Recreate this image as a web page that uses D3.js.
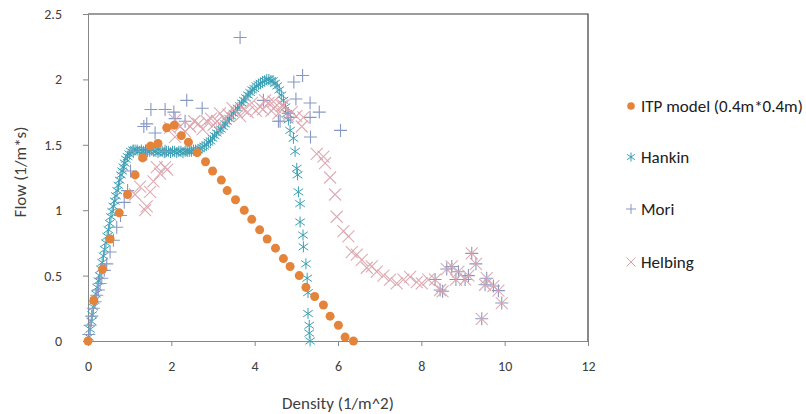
<!DOCTYPE html>
<html>
<head>
<meta charset="utf-8">
<script src="https://cdn.jsdelivr.net/npm/d3@7"></script>
<style>
  html, body { margin: 0; padding: 0; background: #fff; }
  svg { display: block; font-family: Carlito, Lato, "Open Sans", sans-serif; }
</style>
</head>
<body>
<svg id="chart" width="806" height="414"></svg>
<script>
// ---- data ----
const xTicks = [0, 2, 4, 6, 8, 10, 12];
const yTicks = [0, 0.5, 1, 1.5, 2, 2.5];
const seriesNames = ["ITP model (0.4m*0.4m)", "Hankin", "Mori", "Helbing"];

const itp = [
  [0,0],[0.14,0.31],[0.35,0.55],[0.53,0.78],[0.75,0.98],[0.95,1.12],[1.13,1.27],[1.31,1.4],
  [1.5,1.49],[1.68,1.51],[1.89,1.63],[2.07,1.65],[2.24,1.57],[2.41,1.52],[2.62,1.44],[2.82,1.37],
  [2.99,1.3],[3.2,1.23],[3.34,1.15],[3.54,1.08],[3.75,1.0],[3.93,0.93],[4.12,0.85],[4.3,0.78],
  [4.5,0.71],[4.69,0.63],[4.85,0.57],[5.07,0.5],[5.23,0.41],[5.44,0.34],[5.65,0.275],[5.81,0.19],
  [6.01,0.12],[6.17,0.03],[6.37,0.0]
];

const hankin = [
  [0.02,0.03],[0.05,0.09],[0.08,0.15],[0.1,0.2],[0.13,0.26],[0.16,0.31],[0.19,0.36],[0.22,0.41],
  [0.25,0.46],[0.28,0.5],[0.31,0.55],[0.34,0.6],[0.37,0.65],[0.4,0.7],[0.43,0.75],[0.46,0.8],
  [0.49,0.85],[0.52,0.9],[0.55,0.95],[0.58,0.99],[0.61,1.03],[0.64,1.07],[0.67,1.11],[0.7,1.15],
  [0.73,1.19],[0.76,1.23],[0.79,1.27],[0.82,1.3],[0.85,1.33],[0.88,1.36],[0.91,1.39],[0.95,1.41],
  [0.99,1.43],[1.03,1.45],[1.08,1.46],[1.13,1.46],[1.18,1.46],[1.23,1.45],[1.28,1.46],[1.33,1.45],
  [1.38,1.46],[1.43,1.45],[1.48,1.45],[1.53,1.46],[1.58,1.45],[1.63,1.45],[1.68,1.44],[1.73,1.45],
  [1.78,1.45],[1.83,1.44],[1.88,1.45],[1.93,1.45],[1.98,1.44],[2.03,1.45],[2.08,1.45],[2.13,1.44],
  [2.18,1.45],[2.23,1.45],[2.28,1.44],[2.33,1.45],[2.38,1.45],[2.43,1.45],[2.48,1.45],[2.53,1.46],
  [2.58,1.46],[2.64,1.46],[2.69,1.47],[2.74,1.48],[2.79,1.49],[2.84,1.5],[2.89,1.52],[2.94,1.53],
  [2.99,1.55],[3.04,1.57],[3.09,1.59],[3.14,1.61],[3.19,1.62],[3.24,1.64],[3.29,1.66],[3.34,1.68],
  [3.39,1.7],[3.44,1.72],[3.49,1.74],[3.54,1.76],[3.59,1.78],[3.64,1.8],[3.69,1.82],[3.74,1.84],
  [3.79,1.86],[3.84,1.88],[3.89,1.9],[3.94,1.92],[3.99,1.93],[4.04,1.95],[4.09,1.96],[4.14,1.97],
  [4.19,1.98],[4.24,1.99],[4.29,2.0],[4.34,2.0],[4.39,1.99],[4.44,1.99],[4.49,1.97],[4.54,1.95],
  [4.59,1.92],[4.64,1.88],[4.69,1.84],[4.74,1.79],[4.78,1.74],[4.81,1.69],[4.85,1.61],[4.93,1.55],
  [4.97,1.45],[5.01,1.32],[5.03,1.27],[5.05,1.14],[5.09,1.05],[5.09,0.91],[5.16,0.81],[5.17,0.72],
  [5.23,0.59],[5.26,0.48],[5.28,0.37],[5.28,0.21],[5.31,0.12],[5.31,0.06],[5.33,0.0]
];

const mori = [
  [0.02,0.05],[0.05,0.12],[0.09,0.19],[0.13,0.25],[0.17,0.3],[0.21,0.35],[0.25,0.39],[0.29,0.44],
  [0.33,0.48],[0.39,0.54],[0.45,0.59],[0.53,0.68],[0.61,0.77],[0.69,0.87],[0.78,0.96],[0.87,1.06],
  [0.95,1.15],[1.02,1.3],[1.09,1.45],[1.41,1.43],[1.85,1.45],[1.34,1.64],[1.41,1.66],[1.61,1.59],
  [1.51,1.77],[1.85,1.77],[2.06,1.75],[2.09,1.7],[2.33,1.68],[2.37,1.84],[2.74,1.78],[3.65,2.32],
  [4.21,1.84],[4.57,1.68],[4.61,1.68],[4.81,1.74],[4.86,1.71],[4.94,1.98],[4.99,1.85],[5.15,2.03],
  [5.33,1.82],[5.33,1.71],[5.34,1.56],[5.55,1.75],[6.06,1.61],
  [8.33,0.47],[8.45,0.39],[8.51,0.38],[8.61,0.55],[8.73,0.57],[8.83,0.47],[8.89,0.53],[9.05,0.47],
  [9.13,0.5],[9.21,0.67],[9.31,0.59],[9.45,0.17],[9.53,0.43],[9.57,0.48],[9.73,0.42],[9.85,0.385],
  [9.93,0.29]
];

const helbing = [
  [1.13,1.12],[1.25,1.18],[1.37,1.0],[1.41,1.03],[1.49,1.14],[1.57,1.22],[1.65,1.33],[1.73,1.28],
  [1.85,1.33],[1.9,1.31],[1.97,1.63],[2.09,1.69],[2.09,1.56],[2.21,1.64],[2.33,1.6],[2.45,1.64],
  [2.55,1.68],[2.65,1.66],[2.75,1.62],[2.85,1.68],[2.95,1.7],[3.01,1.65],[3.1,1.68],[3.17,1.74],
  [3.27,1.7],[3.37,1.73],[3.47,1.78],[3.57,1.75],[3.65,1.72],[3.73,1.77],[3.83,1.75],[3.93,1.82],
  [4.03,1.76],[4.13,1.79],[4.2,1.77],[4.25,1.84],[4.33,1.82],[4.4,1.76],[4.45,1.83],[4.49,1.79],
  [4.57,1.74],[4.65,1.8],[4.69,1.8],[4.8,1.72],[4.89,1.75],[5.0,1.72],[5.13,1.64],[5.17,1.71],
  [5.49,1.43],[5.65,1.41],[5.69,1.36],[5.81,1.25],[5.93,1.12],[5.97,0.95],[6.13,0.84],[6.25,0.8],
  [6.33,0.68],[6.45,0.66],[6.57,0.62],[6.69,0.56],[6.81,0.57],[6.93,0.53],[7.09,0.5],[7.25,0.47],
  [7.41,0.44],[7.57,0.47],[7.73,0.49],[7.89,0.45],[8.01,0.44],[8.17,0.47],
  [8.33,0.47],[8.45,0.39],[8.51,0.38],[8.61,0.55],[8.73,0.57],[8.83,0.47],[8.89,0.53],[9.05,0.47],
  [9.13,0.5],[9.21,0.67],[9.31,0.59],[9.45,0.17],[9.53,0.43],[9.57,0.48],[9.73,0.42],[9.85,0.385],
  [9.93,0.29]
];

// ---- layout ----
const svg = d3.select("#chart");
const plot = { left: 88, right: 588, top: 14, bottom: 341 };
const x = d3.scaleLinear().domain([0, 12]).range([plot.left, plot.right]);
const y = d3.scaleLinear().domain([0, 2.5]).range([plot.bottom, plot.top]);

const colors = { itp: "#E4833A", hankin: "#3A9FB4", mori: "#8898C4", helbing: "#DAA2AB" };
const textColor = "#404040";
const axisColor = "#868686";

// frame (top & right)
svg.append("path")
  .attr("d", `M${plot.left},${plot.top}H${plot.right}V${plot.bottom}`)
  .attr("fill", "none").attr("stroke", "#3a3a3a").attr("stroke-width", 1.2);

// axes
const fmt = d => String(d);
const xAxis = svg.append("g").attr("transform", `translate(0,${plot.bottom})`)
  .call(d3.axisBottom(x).tickValues(xTicks).tickFormat(fmt).tickSize(5).tickPadding(15));
const yAxis = svg.append("g").attr("transform", `translate(${plot.left},0)`)
  .call(d3.axisLeft(y).tickValues(yTicks).tickFormat(fmt).tickSize(5).tickPadding(21));
[xAxis, yAxis].forEach(g => {
  g.select(".domain").attr("stroke", axisColor);
  g.selectAll(".tick line").attr("stroke", axisColor);
  g.selectAll(".tick text").attr("fill", textColor).attr("font-size", 14)
    .attr("font-family", "Carlito, Lato, sans-serif");
});

// titles
svg.append("text").attr("x", 338).attr("y", 409).attr("text-anchor", "middle")
  .attr("font-size", 17).attr("fill", textColor).text("Density (1/m^2)");
svg.append("text").attr("transform", "translate(26,172) rotate(-90)").attr("text-anchor", "middle")
  .attr("font-size", 17).attr("fill", textColor).text("Flow (1/m*s)");

// marker shapes
const starPath = s => `M0,${-s}V${s}M${-s*0.87},${-s*0.6}L${s*0.87},${s*0.6}M${-s*0.87},${s*0.6}L${s*0.87},${-s*0.6}`;
const plusPath = s => `M${-s},0H${s}M0,${-s}V${s}`;
const crossPath = s => `M${-s},${-s}L${s},${s}M${-s},${s}L${s},${-s}`;

const layer = svg.append("g");

layer.append("g").selectAll("path").data(hankin).join("path")
  .attr("transform", d => `translate(${x(d[0])},${y(d[1])})`)
  .attr("d", starPath(5.5)).attr("stroke", colors.hankin).attr("stroke-width", 1).attr("fill", "none");

layer.append("g").selectAll("path").data(mori).join("path")
  .attr("transform", d => `translate(${x(d[0])},${y(d[1])})`)
  .attr("d", plusPath(6.5)).attr("stroke", colors.mori).attr("stroke-width", 1.1).attr("fill", "none");

layer.append("g").selectAll("path").data(helbing).join("path")
  .attr("transform", d => `translate(${x(d[0])},${y(d[1])})`)
  .attr("d", crossPath(6)).attr("stroke", colors.helbing).attr("stroke-width", 1.1).attr("fill", "none")
  .attr("opacity", 0.9);

layer.append("g").selectAll("circle").data(itp).join("circle")
  .attr("cx", d => x(d[0])).attr("cy", d => y(d[1])).attr("r", 4.5)
  .attr("fill", colors.itp);

// legend
const legendY = [106, 157, 209, 262];
const lg = svg.append("g");
const lgX = 631;
lg.append("circle").attr("cx", lgX).attr("cy", legendY[0]).attr("r", 3.8).attr("fill", colors.itp);
lg.append("path").attr("transform", `translate(${lgX},${legendY[1]})`).attr("d", starPath(4.5))
  .attr("stroke", colors.hankin).attr("fill", "none");
lg.append("path").attr("transform", `translate(${lgX},${legendY[2]})`).attr("d", plusPath(5))
  .attr("stroke", colors.mori).attr("fill", "none");
lg.append("path").attr("transform", `translate(${lgX},${legendY[3]})`).attr("d", crossPath(4.5))
  .attr("stroke", colors.helbing).attr("fill", "none");
lg.selectAll("text").data(seriesNames).join("text")
  .attr("x", 641).attr("y", (d, i) => legendY[i] + 6)
  .attr("font-size", 17).attr("fill", "#202020").text(d => d);
</script>
</body>
</html>
